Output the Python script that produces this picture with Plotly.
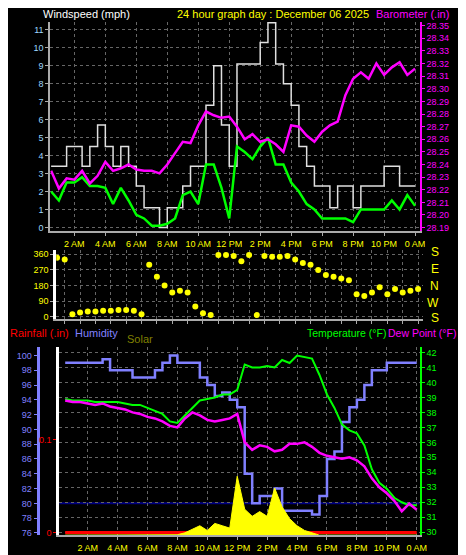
import plotly.graph_objects as go

W, H = 466, 555

# half-hour times (hours since midnight)
hours = [0.5 * i for i in range(1, 49)]

wind_avg = [2.0, 1.5, 2.5, 2.5, 2.8, 2.3, 2.3, 2.2, 1.3, 2.2, 1.5, 0.7, 0.5, 0.1, 0.1, 0.2,
            0.5, 1.8, 2.0, 1.3, 3.5, 3.5, 2.2, 0.5, 4.5, 4.2, 3.8, 4.5, 5.0, 3.5, 3.5, 2.5,
            2.0, 1.3, 1.0, 0.5, 0.5, 0.5, 0.5, 0.3, 1.0, 1.0, 1.0, 1.0, 1.5, 1.0, 1.8, 1.2]
wind_gust = [3.4, 3.4, 4.5, 4.5, 3.4, 4.5, 5.7, 4.5, 3.4, 4.5, 3.4, 2.3, 1.1, 1.1, 0.0, 1.1,
             1.1, 2.3, 3.4, 3.4, 6.8, 9.0, 5.7, 3.4, 9.1, 9.1, 9.1, 10.3, 11.4, 9.1, 8.0, 6.8,
             4.5, 3.4, 2.3, 2.3, 1.1, 2.3, 2.3, 1.1, 2.3, 2.3, 2.3, 3.4, 3.4, 2.3, 2.3, 2.3]
pressure = [28.235, 28.221, 28.229, 28.228, 28.235, 28.225, 28.231, 28.242, 28.235, 28.237,
            28.240, 28.236, 28.235, 28.235, 28.233, 28.240, 28.249, 28.258, 28.257, 28.271,
            28.282, 28.279, 28.277, 28.278, 28.270, 28.260, 28.264, 28.258, 28.260, 28.256,
            28.250, 28.271, 28.270, 28.263, 28.258, 28.266, 28.271, 28.274, 28.295, 28.308,
            28.313, 28.308, 28.320, 28.311, 28.317, 28.321, 28.311, 28.316]
wind_dir = [340, 330, 15, 25, 30, 30, 35, 35, 40, 40, 35, 15, 300, 230, 180, 140,
            150, 140, 60, 20, 10, 355, 355, 350, 320, 355, 10, 350, 345, 345, 350, 330,
            310, 300, 270, 240, 230, 220, 210, 130, 120, 140, 170, 130, 160, 140, 150, 160]
humidity = [99, 99, 99, 99, 99, 99.5, 98, 98, 98, 97, 97, 97, 98, 99, 100, 99,
            99, 99, 97, 96, 94.5, 95, 94, 93, 84, 80, 81, 81, 82, 79, 79, 79,
            79, 78.5, 81, 86, 87, 91, 93, 94, 96, 98, 98, 99, 99, 99, 99, 99]
temperature = [38.9, 38.8, 38.8, 38.8, 38.7, 38.7, 38.7, 38.7, 38.6, 38.5, 38.5, 38.3,
               38.1, 37.9, 37.4, 37.3, 37.8, 38.3, 38.8, 38.9, 39.0, 39.2, 39.2, 39.5,
               41.2, 41.0, 41.0, 41.1, 41.0, 41.5, 41.3, 41.8, 41.7, 41.6, 40.5, 39.2,
               38.3, 37.2, 36.8, 36.6, 35.8, 34.2, 33.3, 32.9, 32.3, 32.0, 31.8, 31.8]
dew_point = [38.8, 38.7, 38.7, 38.6, 38.5, 38.6, 38.4, 38.3, 38.2, 38.0, 37.9, 37.7,
             37.6, 37.4, 37.1, 37.0, 37.6, 38.0, 37.8, 37.5, 37.4, 37.5, 37.6, 37.9,
             36.0, 35.5, 35.8, 35.7, 35.4, 35.5, 35.9, 35.9, 36.0, 35.7, 35.3, 35.1,
             35.0, 34.9, 35.0, 34.8, 34.4, 33.6, 33.0, 32.6, 32.1, 31.4, 31.9, 31.5]
solar = [0, 0, 0, 0, 0, 0, 0, 0, 0, 0, 0, 0, 0, 0, 0, 2,
         10, 25, 40, 20, 50, 40, 30, 250, 110, 80, 100, 80, 200, 120, 70, 40,
         20, 10, 0, 0, 0, 0, 0, 0, 0, 0, 0, 0, 0, 0, 0, 0]
rainfall = [0.0] * 48

tick_hours = list(range(2, 25, 2))
tick_text = ["2 AM", "4 AM", "6 AM", "8 AM", "10 AM", "12 PM", "2 PM", "4 PM",
             "6 PM", "8 PM", "10 PM", "0 AM"]


def py(p):
    return 1 - p / H


def px(p):
    return p / W


FONT = "Liberation Sans"
GRID = dict(showgrid=True, gridcolor="#666666", griddash="dot", gridwidth=1)

fig = go.Figure()

# top panel
fig.add_trace(go.Scatter(x=hours, y=wind_gust, mode="lines", line=dict(color="#e0e0e0", width=1.5, shape="hv"),
                         xaxis="x", yaxis="y"))
fig.add_trace(go.Scatter(x=hours, y=wind_avg, mode="lines", line=dict(color="#00ff00", width=2.5),
                         xaxis="x", yaxis="y"))
fig.add_trace(go.Scatter(x=hours, y=pressure, mode="lines", line=dict(color="#ff00ff", width=2.5),
                         xaxis="x", yaxis="y2"))
# middle panel
fig.add_trace(go.Scatter(x=hours, y=wind_dir, mode="markers", marker=dict(color="#ffff00", size=6),
                         xaxis="x2", yaxis="y3"))
# bottom panel
fig.add_trace(go.Scatter(x=hours, y=solar, mode="lines", fill="tozeroy", fillcolor="#ffff00",
                         line=dict(color="#ffff00", width=1), xaxis="x3", yaxis="y7"))
fig.add_trace(go.Scatter(x=hours, y=rainfall, mode="lines", line=dict(color="#ff0000", width=3),
                         xaxis="x3", yaxis="y5"))
fig.add_trace(go.Scatter(x=hours, y=humidity, mode="lines", line=dict(color="#8080ff", width=2.5, shape="hv"),
                         xaxis="x3", yaxis="y4"))
fig.add_trace(go.Scatter(x=hours, y=temperature, mode="lines", line=dict(color="#00ff00", width=2),
                         xaxis="x3", yaxis="y6"))
fig.add_trace(go.Scatter(x=hours, y=dew_point, mode="lines", line=dict(color="#ff00ff", width=2.5),
                         xaxis="x3", yaxis="y6"))

xcommon = dict(tickvals=tick_hours, ticktext=tick_text, tickfont=dict(color="#ffff00", size=9, family=FONT),
               dtick=1, zeroline=False, showline=True, linecolor="#aaaaaa", linewidth=2,
               ticks="outside", tickcolor="#aaaaaa", ticklen=3, **GRID)

fig.update_layout(
    width=W, height=H, margin=dict(l=0, r=0, t=0, b=0),
    paper_bgcolor="black", plot_bgcolor="black", showlegend=False,
    font=dict(family=FONT, color="white"),
    xaxis=dict(domain=[px(43), px(418)], range=[0.45, 24.3], anchor="y", **xcommon),
    yaxis=dict(domain=[py(224), py(13)], range=[-0.22, 11.44], anchor="x", dtick=1,
               tickfont=dict(color="#9fd8ff", size=9), showline=True, linecolor="#aaaaaa",
               linewidth=2, zeroline=False, ticks="outside", tickcolor="#aaaaaa", ticklen=3, **GRID),
    yaxis2=dict(overlaying="y", side="right", anchor="x", range=[28.187, 28.353], dtick=0.01,
                tickformat=".2f", tickfont=dict(color="#ff00ff", size=9), showgrid=False,
                showline=True, linecolor="#ff00ff", linewidth=2, zeroline=False,
                ticks="outside", tickcolor="#ff00ff", ticklen=3),
    xaxis2=dict(domain=[px(49), px(421)], range=[0.45, 24.3], anchor="y3", showticklabels=False,
                **{k: v for k, v in xcommon.items() if k not in ("tickvals", "ticktext", "tickfont")}),
    yaxis3=dict(domain=[py(312), py(243)], range=[-11, 383], anchor="x2",
                tickvals=[0, 90, 180, 270, 360], tickfont=dict(color="#ffff00", size=9),
                showline=True, linecolor="#ffffff", linewidth=3, zeroline=False,
                ticks="outside", tickcolor="#aaaaaa", ticklen=3, **GRID),
    xaxis3=dict(domain=[px(52), px(418)], range=[0.1, 24.2], anchor="y5", **xcommon),
    yaxis4=dict(domain=[py(530), py(340)], range=[75.7, 101.2], anchor="free", position=px(30),
                dtick=2, tickfont=dict(color="#8080ff", size=9), showline=True, linecolor="#8080ff",
                linewidth=3, zeroline=False, ticks="outside", tickcolor="#8080ff", ticklen=3,
                showgrid=False),
    yaxis5=dict(overlaying="y4", range=[-0.003, 0.2], anchor="x3", tickvals=[0, 0.1],
                ticktext=["0", "0.1"], tickfont=dict(color="#ff0000", size=9), showline=True,
                linecolor="#ffffff", linewidth=3, zeroline=False, ticks="outside",
                tickcolor="#ff0000", ticklen=3, showgrid=False),
    yaxis6=dict(overlaying="y4", side="right", anchor="x3", range=[29.8, 42.4], dtick=1,
                tickfont=dict(color="#00ff00", size=9), showline=True, linecolor="#00ff00",
                linewidth=2, zeroline=False, ticks="outside", tickcolor="#00ff00", ticklen=3, **GRID),
    yaxis7=dict(overlaying="y4", range=[0, 800], visible=False),
)

# humidity 80 reference line
fig.add_shape(type="line", xref="x3", yref="y4", x0=0.1, x1=24.2, y0=80, y1=80,
              line=dict(color="#000080", width=2), layer="below")

texts = [
    (34, 5, "Windspeed (mph)", "white", "left", 11),
    (170, 5, "24 hour graph day : December 06 2025", "#ffff00", "left", 11),
    (372, 5, "Barometer (.in)", "#ff00ff", "left", 11),
    (0, 326, "Rainfall (.in)", "#ff0000", "left", 11),
    (66, 326, "Humidity", "#8080ff", "left", 11),
    (119, 332, "Solar", "#808000", "left", 11),
    (302, 326, "Temperature (°F)", "#00ff00", "left", 10.5),
    (457, 326, "Dew Point (°F)", "#ff00ff", "right", 10.5),
]
for x, y, t, c, a, s in texts:
    fig.add_annotation(x=px(x), y=py(y), xref="paper", yref="paper", text=t, showarrow=False,
                       xanchor=a, yanchor="middle", font=dict(color=c, size=s, family=FONT))

for lbl, yy in zip(["S", "E", "N", "W", "S"], [245, 262, 279, 296, 311]):
    fig.add_annotation(x=px(440), y=py(yy), xref="paper", yref="paper", text=lbl, showarrow=False,
                       font=dict(color="#ffff00", size=12, family=FONT))

fig.write_html("out.html")
